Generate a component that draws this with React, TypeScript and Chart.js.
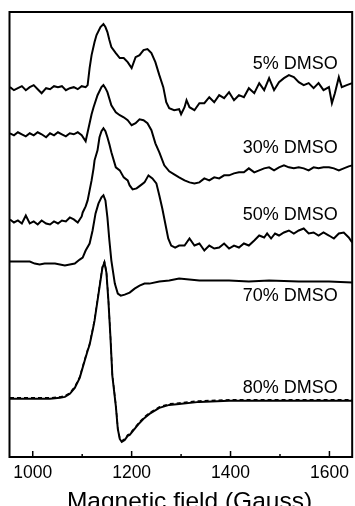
import React, { useEffect, useRef } from "react";
import { Chart, registerables } from "chart.js";

Chart.register(...registerables);

// Magnetic field (Gauss) / signal (arbitrary units, vertically offset traces)
const field5 = [954,962,970,978,986,994,1002,1010,1018,1027,1035,1043,1051,1059,1067,1075,1083,1091,1099,1107,1111,1115,1119,1125,1129,1137,1143,1147,1151,1155,1159,1168,1176,1184,1192,1200,1208,1216,1224,1232,1240,1248,1256,1264,1270,1276,1286,1296,1300,1307,1311,1317,1327,1337,1347,1357,1367,1377,1387,1397,1407,1417,1427,1437,1448,1458,1468,1478,1488,1498,1508,1518,1528,1538,1548,1558,1568,1578,1588,1599,1605,1611,1619,1625,1635,1646];
const signal5 = [369,366,368,370,366,369,371,367,363,368,367,370,369,370,366,368,369,367,370,369,371,388,401,414,421,429,432,429,424,416,409,403,398,398,394,388,399,401,406,407,403,394,381,369,354,348,346,347,342,349,356,349,346,353,353,359,354,361,358,364,356,361,359,368,363,373,366,378,366,374,378,381,379,374,371,373,368,373,366,369,353,363,379,369,371,373];

const field30 = [954,962,970,978,986,994,1002,1010,1018,1027,1035,1043,1051,1059,1067,1075,1083,1091,1099,1107,1111,1115,1119,1123,1131,1139,1143,1147,1151,1159,1168,1176,1184,1192,1200,1208,1216,1224,1232,1240,1248,1256,1266,1276,1286,1296,1307,1317,1327,1337,1347,1357,1367,1377,1387,1397,1407,1417,1427,1437,1448,1458,1468,1478,1488,1498,1508,1518,1528,1538,1548,1558,1568,1578,1588,1599,1609,1619,1629,1639,1646];
const signal30 = [323,321,324,322,320,323,321,324,322,319,323,321,324,322,320,323,322,324,321,315,324,333,342,349,361,369,371,368,364,351,344,341,339,336,331,333,337,336,333,326,313,304,291,285,282,279,276,274,273,274,278,276,279,278,281,281,283,284,284,288,284,286,288,289,286,289,291,289,288,289,288,286,289,288,289,289,288,286,288,290,291];

const field50 = [954,962,970,978,986,994,1002,1010,1018,1027,1035,1043,1051,1059,1067,1075,1083,1091,1099,1101,1107,1111,1115,1119,1123,1125,1131,1135,1139,1143,1147,1151,1155,1159,1168,1176,1184,1192,1196,1202,1210,1218,1226,1234,1242,1250,1256,1262,1268,1274,1280,1288,1296,1307,1317,1327,1337,1347,1357,1367,1377,1387,1397,1407,1417,1427,1437,1448,1458,1468,1474,1482,1490,1498,1508,1518,1528,1538,1548,1558,1568,1578,1588,1599,1609,1619,1629,1639,1646];
const signal50 = [237,234,236,233,241,233,235,232,236,233,232,235,233,236,235,239,237,234,240,244,250,256,266,276,288,296,306,319,325,328,325,319,312,304,289,286,279,276,271,267,268,271,274,281,278,273,261,248,233,218,211,209,211,211,218,211,213,206,211,208,209,213,208,211,209,213,211,216,221,219,223,218,223,221,224,226,223,226,228,223,224,221,224,221,218,223,224,219,214];

const field70 = [954,974,994,1004,1014,1024,1035,1045,1055,1065,1075,1085,1095,1101,1107,1115,1121,1127,1133,1139,1143,1147,1151,1155,1159,1166,1172,1178,1186,1196,1206,1216,1226,1236,1256,1276,1296,1337,1397,1437,1478,1538,1599,1646];
const signal70 = [195,195,195,193,192,193,193,193,192,191,192,193,197,199,206,213,226,243,253,259,261,256,239,216,196,173,163,161,162,164,168,171,173,173,175,176,178,176,176,175,176,175,175,174];

const field80 = [954,994,1035,1055,1065,1075,1085,1095,1105,1111,1115,1121,1125,1131,1137,1141,1145,1149,1153,1157,1161,1168,1172,1176,1180,1186,1192,1196,1206,1216,1226,1236,1256,1276,1296,1337,1397,1458,1538,1646];
const signal80 = [58,58,58,59,60,63,69,79,96,106,112,126,136,156,176,189,194,184,156,121,81,51,28,18,15,17,21,22,28,34,39,43,49,52,53,55,56,56,56,56];
// dashed simulated spectrum for 80% DMSO (nearly coincident)
const fit80 = [59,59,59,60,61,64,70,80,97,107,113,127,137,157,177,190,195,185,157,122,82,52,29,19,16,18,22,23,29,35,40,44,50,53,54,56,57,57,57,57];

const traceLabels = ["5% DMSO", "30% DMSO", "50% DMSO", "70% DMSO", "80% DMSO"];
const labelSignal = [392, 308, 241, 161, 69];
const labelField = 1617;

const majorTicks = [1000, 1200, 1400, 1600];
const minorTicks = [1100, 1300, 1500];
const xMin = 953;
const xMax = 1646;
const yMin = 0;
const yMax = 444;
const axisTitle = "Magnetic field (Gauss)";
const titleField = 1317;

const FONT = "'Liberation Sans', Arial, Helvetica, sans-serif";

const toPts = (xs: number[], ys: number[]) => xs.map((x, i) => ({ x, y: ys[i] }));

export default function App() {
  const ref = useRef<HTMLCanvasElement | null>(null);
  useEffect(() => {
    document.body.style.margin = "0";
    const canvas = ref.current;
    if (!canvas) return;
    const line = (data: { x: number; y: number }[], dash: number[] = []) => ({
      data,
      borderColor: "#000",
      borderWidth: dash.length ? 1.5 : 2,
      borderDash: dash,
      pointRadius: 0,
      fill: false,
      tension: 0,
    });
    const decor = {
      id: "decor",
      afterDatasetsDraw(chart: any) {
        const { ctx, chartArea: a, scales } = chart;
        const xs = scales.x;
        const ys = scales.y;
        ctx.save();
        ctx.strokeStyle = "#000";
        ctx.lineWidth = 2;
        ctx.strokeRect(a.left, a.top, a.right - a.left, a.bottom - a.top);
        ctx.lineWidth = 1.5;
        majorTicks.forEach((v) => {
          const px = xs.getPixelForValue(v);
          ctx.beginPath();
          ctx.moveTo(px, a.bottom);
          ctx.lineTo(px, a.bottom - 6);
          ctx.stroke();
        });
        minorTicks.forEach((v) => {
          const px = xs.getPixelForValue(v);
          ctx.beginPath();
          ctx.moveTo(px, a.bottom);
          ctx.lineTo(px, a.bottom - 3);
          ctx.stroke();
        });
        ctx.fillStyle = "#000";
        ctx.font = `18px ${FONT}`;
        ctx.textAlign = "right";
        ctx.textBaseline = "middle";
        traceLabels.forEach((t, i) => {
          ctx.fillText(t, xs.getPixelForValue(labelField), ys.getPixelForValue(labelSignal[i]));
        });
        ctx.font = `24.5px ${FONT}`;
        ctx.textAlign = "center";
        ctx.textBaseline = "alphabetic";
        ctx.fillText(axisTitle, xs.getPixelForValue(titleField), a.bottom + 52);
        ctx.restore();
      },
    };
    const chart = new Chart(canvas, {
      type: "line",
      data: {
        datasets: [
          line(toPts(field5, signal5)),
          line(toPts(field30, signal30)),
          line(toPts(field50, signal50)),
          line(toPts(field70, signal70)),
          line(toPts(field80, signal80)),
          line(toPts(field80, fit80), [4, 3]),
        ] as any,
      },
      options: {
        responsive: false,
        animation: false,
        layout: { padding: { left: 9.5, right: 1.5, top: 12, bottom: 16 } },
        plugins: { legend: { display: false }, tooltip: { enabled: false } },
        scales: {
          x: {
            type: "linear",
            min: xMin,
            max: xMax,
            afterBuildTicks: (s: any) => {
              s.ticks = majorTicks.map((v) => ({ value: v }));
            },
            grid: { display: false, drawTicks: false },
            border: { display: false },
            ticks: {
              color: "#000",
              padding: 6,
              maxRotation: 0,
              autoSkip: false,
              font: { family: FONT, size: 17.5 },
              callback: (v: any) => String(v),
            },
          },
          y: { type: "linear", display: false, min: yMin, max: yMax },
        },
      } as any,
      plugins: [decor],
    });
    return () => chart.destroy();
  }, []);
  return (
    <div style={{ position: "absolute", left: 0, top: 0, width: 355, height: 506, background: "#fff" }}>
      <canvas ref={ref} width={355} height={506} style={{ width: 355, height: 506 }} />
    </div>
  );
}
